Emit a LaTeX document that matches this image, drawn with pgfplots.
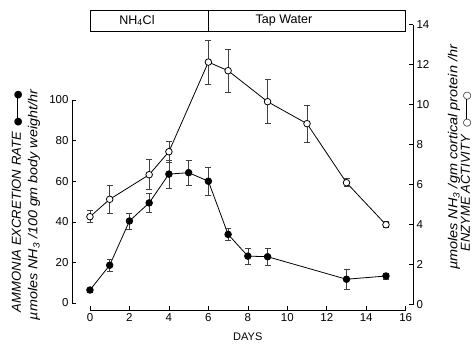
\documentclass[border=0pt]{standalone}
\usepackage{pgfplots}
\pgfplotsset{compat=1.18}
\usepackage{pgfplotstable}
\usepackage{graphicx}
\usepackage{fontspec}
\setmainfont{Liberation Sans}
\newfontfamily\sym{DejaVu Sans}

\pgfplotstableread{
x y e
0 6.4 1.0
1 18.6 2.8
2 40.4 4.0
3 49.3 4.7
4 63.5 6.9
5 64.2 6.2
6 60.0 6.9
7 33.8 2.8
8 23.1 4.1
9 22.8 4.0
13 11.7 5.0
15 13.3 1.5
}\ammonia

\pgfplotstableread{
x y e
0 4.4 0.3
1 5.27 0.72
3 6.5 0.75
4 7.65 0.53
6 12.13 1.1
7 11.7 1.08
9 10.15 1.1
11 9.05 0.92
13 6.1 0.2
15 4.0 0.15
}\enzyme

\newcommand{\filledkey}{{\sym\upshape\fontsize{10}{10}\selectfont ●\kern-1.2pt\rule[0.3em]{20pt}{0.9pt}\kern-1.2pt●}}
\newcommand{\openkey}{{\sym\upshape\fontsize{10}{10}\selectfont ○\kern-1.2pt\rule[0.3em]{20pt}{0.9pt}\kern-1.2pt○}}

\begin{document}
\begin{tikzpicture}[x=1pt,y=1pt]
\useasboundingbox (0pt,0pt) rectangle (473pt,345pt);
\pgfplotsset{
  common/.style={
    at={(72pt,35pt)}, anchor=south west, scale only axis,
    width=341pt, height=285.3pt,
    xmin=-0.91, xmax=16.37,
    clip=false,
    axis line style={draw=none},
    tick align=inside, major tick length=4pt,
    tick style={black, line width=0.6pt},
    /pgf/number format/assume math mode=true,
    tick label style={font=\fontsize{11.5}{12}\selectfont},
  }
}
\begin{axis}[common,
  ymin=-3.45, ymax=137.1,
  axis x line*=bottom, axis y line*=left,
  xtick={0,2,...,16}, ytick={0,20,...,100},
]
\draw[line width=0.7pt] (axis cs:0,-3.45) -- (axis cs:16,-3.45);
\draw[line width=0.7pt] (axis cs:-0.91,0) -- (axis cs:-0.91,100);
\draw[line width=0.7pt] (axis cs:0,134.0) rectangle (axis cs:16,144.3);
\draw[line width=0.7pt] (axis cs:6,134.0) -- (axis cs:6,144.3);
\node[font=\fontsize{12.5}{13}\selectfont] at (axis cs:2.38,139.2) {NH\textsubscript{4}Cl};
\node[font=\fontsize{12.5}{13}\selectfont] at (axis cs:9.83,139.2) {Tap Water};
\addplot[black, line width=0.8pt, mark=*, mark size=3.3pt, mark options={fill=black},
  error bars/.cd, y dir=both, y explicit,
  error bar style={line width=0.5pt, black!75},
  error mark options={rotate=90, mark size=3pt, line width=0.5pt, black!75}]
  table[x=x, y=y, y error=e] {\ammonia};
\end{axis}
\begin{axis}[common,
  ymin=-0.265, ymax=14,
  axis x line=none, axis y line*=right,
  ytick={0,2,...,14},
]
\draw[line width=0.7pt] (axis cs:16.37,0) -- (axis cs:16.37,14);
\addplot[black, line width=0.8pt, mark=*, mark size=3.3pt, mark options={fill=white},
  error bars/.cd, y dir=both, y explicit,
  error bar style={line width=0.5pt, black!75},
  error mark options={rotate=90, mark size=3pt, line width=0.5pt, black!75}]
  table[x=x, y=y, y error=e] {\enzyme};
\end{axis}
\node[font=\fontsize{11}{12}\selectfont] at (247.8pt,8pt) {DAYS};
\node[rotate=90, font=\fontsize{13}{14}\selectfont\itshape, inner sep=0pt] at (17pt,143.5pt)
  {\resizebox{180pt}{\height}{AMMONIA EXCRETION RATE}\hspace{6pt}\filledkey};
\node[rotate=90, font=\fontsize{13}{14}\selectfont\itshape, inner sep=0pt] at (34pt,140pt)
  {\resizebox{230pt}{\height}{µmoles NH\textsubscript{3} /100 gm body weight/hr}};
\node[rotate=90, font=\fontsize{13}{14}\selectfont\itshape, inner sep=0pt] at (454pt,187.5pt)
  {\resizebox{225pt}{\height}{µmoles NH\textsubscript{3} /gm cortical protein /hr}};
\node[rotate=90, font=\fontsize{13}{14}\selectfont\itshape, inner sep=0pt] at (466pt,173.5pt)
  {\resizebox{116pt}{\height}{ENZYME ACTIVITY}\hspace{8pt}\openkey};
\end{tikzpicture}
\end{document}
